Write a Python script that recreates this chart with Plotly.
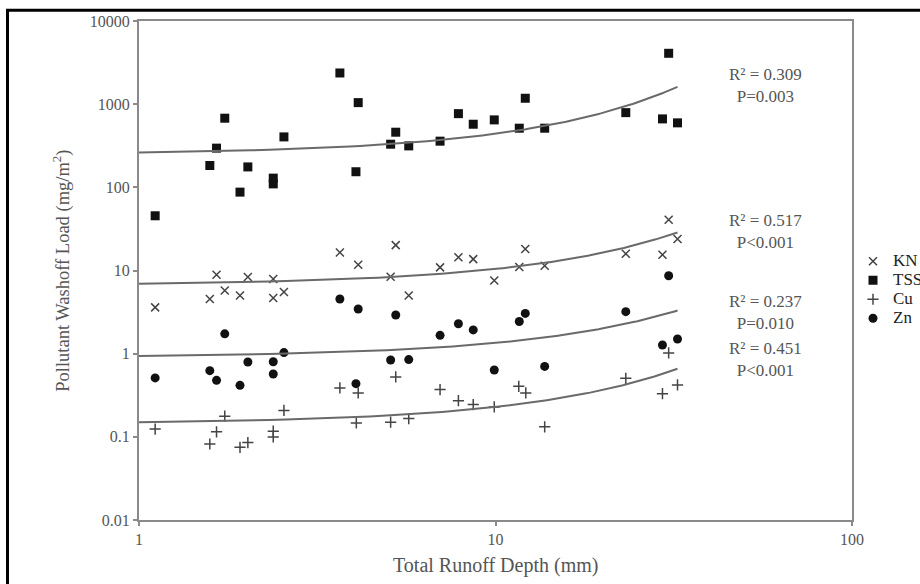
import numpy as np
import plotly.graph_objects as go

# ---- data (x = total runoff depth, mm; y = washoff load, mg/m2) ----
kn_x = [1.11, 1.58, 1.65, 1.74, 1.92, 2.02, 2.38, 2.38, 2.55, 3.66, 4.12, 5.08, 5.25, 5.71,
        6.99, 7.87, 8.66, 9.92, 11.66, 12.12, 13.74, 23.2, 29.4, 30.6, 32.4]
kn_y = [3.60, 4.54, 8.89, 5.76, 5.01, 8.34, 7.89, 4.67, 5.51, 16.5, 11.7, 8.4, 20.2, 5.0,
        10.9, 14.4, 13.7, 7.6, 11.0, 18.1, 11.4, 15.9, 15.5, 40.8, 23.9]

tss_x = [1.11, 1.58, 1.65, 1.74, 1.92, 2.02, 2.38, 2.38, 2.55, 3.66, 4.12, 4.06, 5.08, 5.25,
         5.71, 6.99, 7.87, 8.66, 9.92, 11.66, 12.12, 13.74, 23.2, 29.4, 30.6, 32.4]
tss_y = [45.5, 183, 296, 678, 87.6, 176, 129, 110, 404, 2371, 1044, 154, 330, 460,
         315, 359, 769, 574, 647, 514, 1178, 514, 791, 665, 4090, 596]

cu_x = [1.11, 1.58, 1.65, 1.74, 1.92, 2.02, 2.38, 2.38, 2.55, 3.66, 4.12, 4.07, 5.08, 5.25,
        5.71, 6.99, 7.87, 8.66, 9.92, 11.62, 12.16, 13.74, 23.2, 29.4, 30.6, 32.4]
cu_y = [0.124, 0.082, 0.115, 0.177, 0.0748, 0.0853, 0.117, 0.0998, 0.208, 0.387, 0.337, 0.147,
        0.150, 0.525, 0.166, 0.370, 0.272, 0.244, 0.229, 0.405, 0.337, 0.132, 0.505, 0.330,
        1.02, 0.421]

zn_x = [1.11, 1.58, 1.65, 1.74, 1.92, 2.02, 2.38, 2.38, 2.55, 3.66, 4.12, 4.06, 5.08, 5.25,
        5.71, 6.99, 7.87, 8.66, 9.92, 11.66, 12.12, 13.74, 23.2, 29.4, 30.6, 32.4]
zn_y = [0.511, 0.625, 0.478, 1.73, 0.416, 0.794, 0.80, 0.570, 1.03, 4.54, 3.44, 0.436,
        0.840, 2.92, 0.848, 1.66, 2.29, 1.93, 0.637, 2.44, 3.05, 0.703, 3.20, 1.27, 8.65, 1.50]

series_names = ["KN", "TSS", "Cu", "Zn"]
stats_text = [["R² = 0.309", "P=0.003"], ["R² = 0.517", "P<0.001"],
              ["R² = 0.237", "P=0.010"], ["R² = 0.451", "P<0.001"]]
y_ticks = [0.01, 0.1, 1, 10, 100, 1000, 10000]
y_tick_labels = ["0.01", "0.1", "1", "10", "100", "1000", "10000"]
x_ticks = [1, 10, 100]
x_tick_labels = ["1", "10", "100"]

FONT = "Liberation Serif, Times New Roman, serif"
GRAY_TXT = "#555555"

fig = go.Figure()

styles = {
    "KN": dict(symbol="x-thin-open", size=8, color="#444444", line=dict(width=1.5, color="#444444")),
    "TSS": dict(symbol="square", size=9, color="#111111"),
    "Cu": dict(symbol="cross-thin-open", size=8, color="#444444", line=dict(width=1.5, color="#444444")),
    "Zn": dict(symbol="circle", size=9, color="#111111"),
}
data = {"KN": (kn_x, kn_y), "TSS": (tss_x, tss_y), "Cu": (cu_x, cu_y), "Zn": (zn_x, zn_y)}

for name in series_names:
    xs, ys = data[name]
    fig.add_trace(go.Scatter(x=xs, y=ys, mode="markers",
                             name="<span style='font-size:17px'>%s</span>" % name,
                             marker=styles[name]))

# exponential trend lines (least-squares fit of ln y on x, as in a spreadsheet trendline)
for name in series_names:
    xs, ys = data[name]
    b, ln_a = np.polyfit(np.array(xs), np.log(np.array(ys)), 1)
    xf = np.linspace(1.0, max(xs), 120)
    yf = np.exp(ln_a) * np.exp(b * xf)
    fig.add_trace(go.Scatter(x=xf, y=yf, mode="lines", showlegend=False, hoverinfo="skip",
                             line=dict(color="#6a6a6a", width=2)))

# plot-area pixel geometry
L, R, T, B = 139, 852, 21, 520.5
W, H = R - L, B - T

def px2paper_x(px):
    return (px - L) / W

def px2paper_y(py):
    return (B - py) / H

stat_pos = [(765, 86), (765, 232), (765, 313), (765, 360)]
for (txt, (sx, sy)) in zip(stats_text, stat_pos):
    fig.add_annotation(x=px2paper_x(sx), y=px2paper_y(sy), xref="paper", yref="paper",
                       text="<br>".join(txt), showarrow=False, xanchor="center", yanchor="middle",
                       font=dict(family=FONT, size=17, color=GRAY_TXT), align="center")

fig.add_annotation(x=px2paper_x(62), y=px2paper_y(271), xref="paper", yref="paper",
                   text="Pollutant Washoff Load (mg/m<sup>2</sup>)", textangle=-90, showarrow=False,
                   xanchor="center", yanchor="middle", font=dict(family=FONT, size=18.5, color=GRAY_TXT))
fig.add_annotation(x=px2paper_x(495), y=px2paper_y(566), xref="paper", yref="paper",
                   text="Total Runoff Depth (mm)", showarrow=False,
                   xanchor="center", yanchor="middle", font=dict(family=FONT, size=20, color=GRAY_TXT))

# outer black frame (cropped on right/bottom)
fig.add_shape(type="rect", xref="paper", yref="paper",
              x0=px2paper_x(7.5), x1=px2paper_x(1000), y0=px2paper_y(700), y1=px2paper_y(10.3),
              line=dict(color="black", width=3), fillcolor="rgba(0,0,0,0)")

axis_common = dict(showline=True, linecolor="#8a8a8a", linewidth=2, mirror=True, showgrid=False,
                   zeroline=False, ticks="outside", ticklen=4, tickcolor="#8a8a8a", tickwidth=1.5,
                   tickfont=dict(family=FONT, size=16, color=GRAY_TXT))

fig.update_xaxes(type="log", range=[0, 2], tickvals=x_ticks, ticktext=x_tick_labels, **axis_common)
fig.update_yaxes(type="log", range=[-2, 4], tickvals=y_ticks, ticktext=y_tick_labels, **axis_common)

fig.update_layout(
    width=920, height=584,
    margin=dict(l=L, r=920 - R, t=T, b=584 - B, autoexpand=False),
    paper_bgcolor="white", plot_bgcolor="white",
    font=dict(family=FONT, color=GRAY_TXT),
    legend=dict(x=px2paper_x(853), y=px2paper_y(247), xanchor="left", yanchor="top",
                font=dict(family=FONT, size=12.3, color="#222222"), bgcolor="rgba(0,0,0,0)",
                itemwidth=30, tracegroupgap=0),
    showlegend=True,
)

fig.write_html("out.html", config={"displayModeBar": False},
               post_script="document.body.style.margin='0px';")
